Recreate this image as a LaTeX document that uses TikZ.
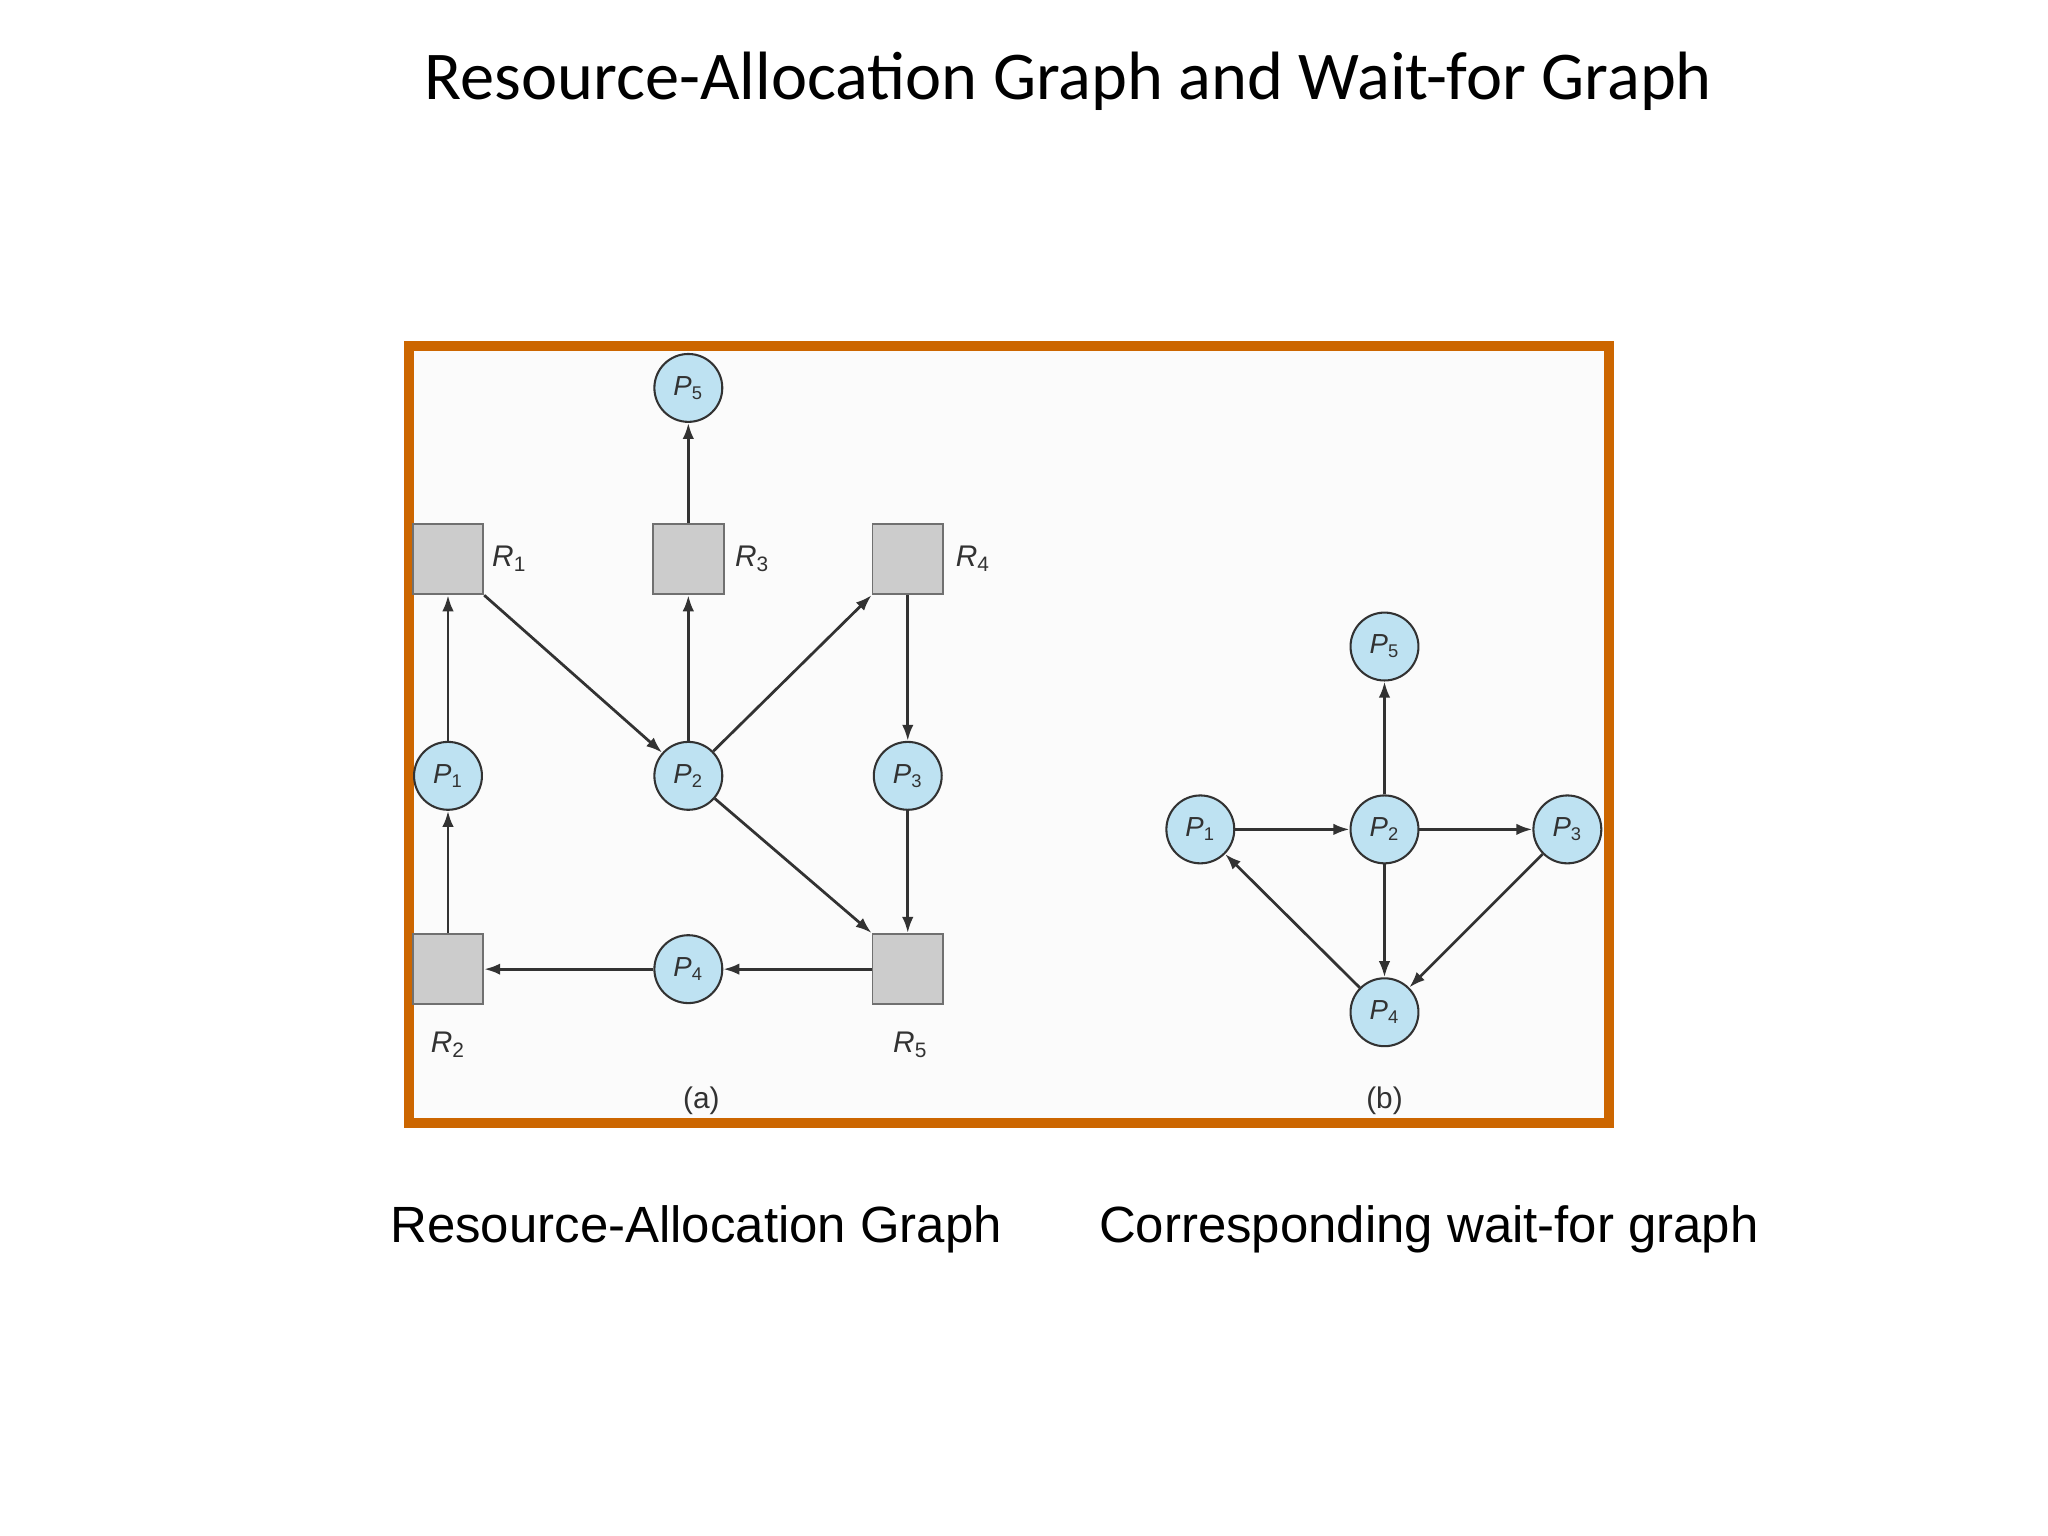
\documentclass[tikz,border=0pt]{standalone}
\usepackage{fontspec}
\setmainfont{Liberation Sans}
\newfontfamily\titlefont{Carlito}
\usetikzlibrary{arrows.meta}
\definecolor{frameor}{RGB}{204,102,0}
\definecolor{pfill}{RGB}{190,226,242}
\definecolor{rfill}{RGB}{204,204,204}
\definecolor{edge}{RGB}{50,50,50}
\tikzset{
 proc/.style={circle,draw=edge,fill=pfill,line width=0.9pt,minimum size=1.04cm,inner sep=0pt,font=\fontsize{12}{12}\selectfont\color{edge}},
 res/.style={rectangle,draw=edge!70,fill=rfill,line width=0.8pt,minimum size=1.08cm,inner sep=0pt},
 rlab/.style={font=\fontsize{13}{13}\selectfont\color{edge}},
 arr/.style={-{Latex[length=7pt,width=5pt]},line width=1.2pt,draw=edge},
}
\newcommand{\Pn}[1]{\textit{P}\textsubscript{#1}}
\newcommand{\Rn}[1]{\textit{R}\textsubscript{#1}}
\begin{document}
\begin{tikzpicture}[x=0.02cm,y=-0.02cm]
\useasboundingbox (0,0) rectangle (1568,1176);
\fill[white] (0,0) rectangle (1568,1176);
\node[font=\titlefont\fontsize{29.8}{34}\selectfont] (title) at (818,62) {Resource-Allocation Graph and Wait-for Graph};
\draw[frameor,line width=4.5pt,fill=gray!3] (313,265) rectangle (1232,860);
% (a)
\node[res] (R1) at (343,428) {};
\node[res] (R3) at (527,428) {};
\node[res] (R4) at (695,428) {};
\node[res] (R2) at (343,742) {};
\node[res] (R5) at (695,742) {};
\node[rlab] (lR1) at (390,428) {\Rn{1}};
\node[rlab] (lR3) at (576,428) {\Rn{3}};
\node[rlab] (lR4) at (745,428) {\Rn{4}};
\node[rlab] (lR2) at (343,800) {\Rn{2}};
\node[rlab] (lR5) at (697,800) {\Rn{5}};
\node[proc] (P5) at (527,297) {\Pn{5}};
\node[proc] (P1) at (343,594) {\Pn{1}};
\node[proc] (P2) at (527,594) {\Pn{2}};
\node[proc] (P3) at (695,594) {\Pn{3}};
\node[proc] (P4) at (527,742) {\Pn{4}};
\draw[arr] (P1) -- (R1);
\draw[arr] (R2) -- (P1);
\draw[arr] (R1.south east) -- (P2);
\draw[arr] (P2) -- (R3);
\draw[arr] (R3) -- (P5);
\draw[arr] (P2) -- (R4.south west);
\draw[arr] (R4) -- (P3);
\draw[arr] (P3) -- (R5);
\draw[arr] (P2) -- (R5.north west);
\draw[arr] (R5) -- (P4);
\draw[arr] (P4) -- (R2);
\node[rlab] (la) at (537,843) {(a)};
% (b)
\node[proc] (Q5) at (1060,495) {\Pn{5}};
\node[proc] (Q1) at (919,635) {\Pn{1}};
\node[proc] (Q2) at (1060,635) {\Pn{2}};
\node[proc] (Q3) at (1200,635) {\Pn{3}};
\node[proc] (Q4) at (1060,775) {\Pn{4}};
\draw[arr] (Q2) -- (Q5);
\draw[arr] (Q1) -- (Q2);
\draw[arr] (Q2) -- (Q3);
\draw[arr] (Q2) -- (Q4);
\draw[arr] (Q3) -- (Q4);
\draw[arr] (Q4) -- (Q1);
\node[rlab] (lb) at (1060,843) {(b)};
% captions
\node[font=\fontsize{22.2}{26}\selectfont] (c1) at (533,941) {Resource-Allocation Graph};
\node[font=\fontsize{22.2}{26}\selectfont] (c2) at (1094,941) {Corresponding wait-for graph};
\end{tikzpicture}
\end{document}
